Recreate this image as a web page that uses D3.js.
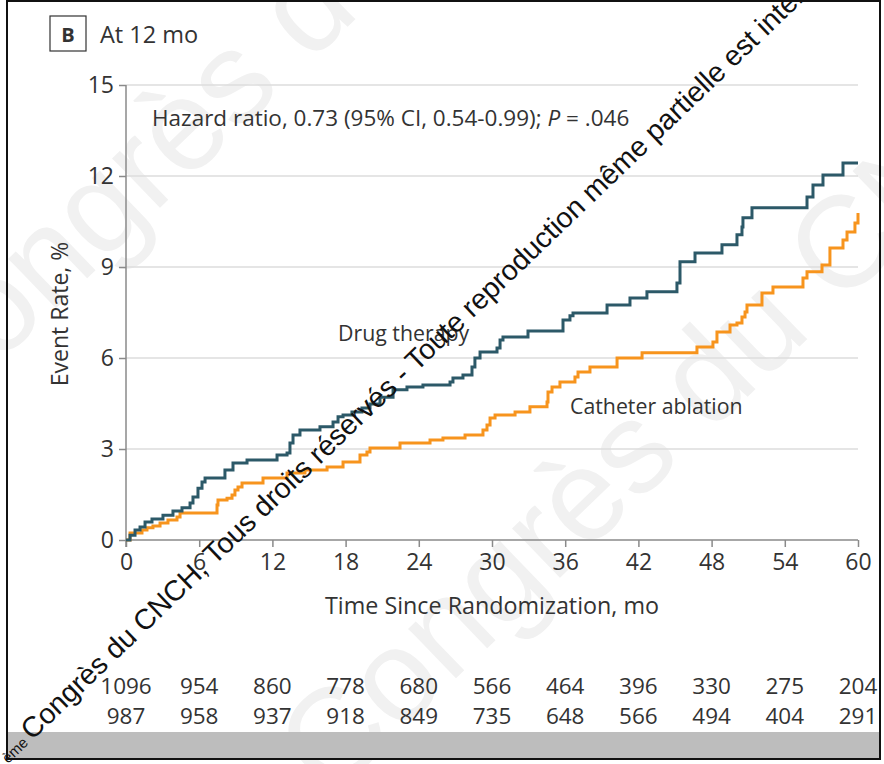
<!DOCTYPE html>
<html>
<head>
<meta charset="utf-8">
<script src="https://cdn.jsdelivr.net/npm/d3@7"></script>
<style>
  body { margin: 0; background: #fff; }
  text { font-family: "Open Sans", "Noto Sans", sans-serif; fill: #333; }
</style>
</head>
<body>
<div id="km-chart"></div>
<script>
// Data (months, cumulative event rate %)
const drugTime = [0, 0.33, 0.74, 1.15, 1.56, 2.13, 3.03, 3.85, 4.59, 5.25, 5.49, 5.9, 6.23, 6.48, 8.11, 8.77, 9.92, 12.38, 13.2, 13.44, 13.69, 14.26, 15.9, 16.97, 17.38, 17.79, 18.52, 19.34, 20.0, 20.82, 21.89, 23.03, 24.34, 26.56, 26.8, 27.62, 28.36, 28.6, 29.02, 30.41, 30.66, 30.9, 32.95, 35.82, 36.39, 36.64, 39.43, 41.31, 42.7, 45.16, 45.41, 46.64, 48.85, 50.08, 50.49, 50.57, 51.31, 55.82, 56.31, 57.13, 58.77, 60];
const drugRate = [0, 0.16, 0.33, 0.43, 0.59, 0.69, 0.82, 0.96, 1.06, 1.22, 1.42, 1.71, 1.91, 2.04, 2.31, 2.54, 2.64, 2.8, 2.87, 3.2, 3.46, 3.63, 3.73, 3.89, 4.06, 4.12, 4.22, 4.35, 4.48, 4.71, 4.95, 5.04, 5.11, 5.21, 5.34, 5.44, 5.7, 6.0, 6.2, 6.33, 6.59, 6.69, 6.89, 7.25, 7.39, 7.48, 7.75, 7.98, 8.18, 8.47, 9.17, 9.46, 9.73, 10.06, 10.32, 10.62, 10.95, 11.31, 11.7, 12.03, 12.43, 12.43];

const ablTime = [0, 0.33, 1.31, 1.72, 2.21, 2.79, 3.44, 4.18, 4.43, 7.46, 7.54, 8.28, 8.69, 8.93, 9.18, 9.51, 11.23, 13.2, 14.67, 16.48, 17.79, 19.18, 19.75, 20.0, 22.46, 24.92, 25.98, 27.79, 29.26, 29.59, 29.84, 30.25, 31.89, 33.11, 34.51, 34.59, 34.92, 35.57, 36.8, 37.05, 38.03, 40.25, 42.3, 46.8, 48.11, 48.44, 49.51, 50.08, 50.49, 50.74, 50.9, 52.13, 53.03, 55.49, 55.82, 57.05, 57.7, 58.77, 59.1, 59.75, 60];
const ablRate = [0, 0.23, 0.33, 0.4, 0.46, 0.56, 0.66, 0.76, 0.89, 1.15, 1.32, 1.38, 1.48, 1.65, 1.75, 1.88, 2.04, 2.21, 2.31, 2.41, 2.57, 2.8, 2.9, 3.03, 3.2, 3.3, 3.36, 3.46, 3.63, 3.79, 4.02, 4.12, 4.22, 4.39, 4.55, 4.88, 5.04, 5.21, 5.37, 5.54, 5.7, 6.0, 6.17, 6.36, 6.53, 6.86, 7.09, 7.15, 7.35, 7.52, 7.75, 8.14, 8.34, 8.64, 8.84, 9.07, 9.63, 9.89, 10.15, 10.45, 10.78];

const xTicks = [0, 6, 12, 18, 24, 30, 36, 42, 48, 54, 60];
const yTicks = [0, 3, 6, 9, 12, 15];
const riskDrug = [1096, 954, 860, 778, 680, 566, 464, 396, 330, 275, 204];
const riskAbl = [987, 958, 937, 918, 849, 735, 648, 566, 494, 404, 291];

const W = 884, H = 764;
const margin = {top: 85, right: 26, left: 126};

const svg = d3.select("#km-chart").append("svg")
  .attr("width", W)
  .attr("height", H);

// faint background watermark
const faint = svg.append("g");
[[-70, 430], [330, 800]].forEach(p => {
  faint.append("text")
    .attr("transform", "translate(" + p[0] + "," + p[1] + ") rotate(-44)")
    .style("font-family", "Liberation Sans, Arial, sans-serif")
    .style("font-size", "130px")
    .style("fill", "#f1f1f1")
    .text("Congrès du CNCH, Tous droits réservés");
});

const x = d3.scaleLinear().domain([0, 60]).range([margin.left, W - margin.right]);
const y = d3.scaleLinear().domain([0, 15]).range([540, margin.top]);

// gridlines
svg.append("g")
  .selectAll("line")
  .data(yTicks.filter(d => d > 0))
  .enter().append("line")
  .attr("x1", x(0))
  .attr("x2", x(60))
  .attr("y1", d => y(d))
  .attr("y2", d => y(d))
  .attr("stroke", "#dcdcdc")
  .attr("stroke-width", 1.5);

// axes
const xAxis = d3.axisBottom(x).tickValues(xTicks).tickSize(7).tickPadding(7);
const yAxis = d3.axisLeft(y).tickValues(yTicks).tickSize(7).tickPadding(5);

const gx = svg.append("g")
  .attr("transform", "translate(0," + y(0) + ")")
  .call(xAxis);
const gy = svg.append("g")
  .attr("transform", "translate(" + x(0) + ",0)")
  .call(yAxis);

[gx, gy].forEach(g => {
  g.select(".domain").attr("stroke", "#8a8a8a").attr("stroke-width", 1.5);
  g.selectAll(".tick line").attr("stroke", "#8a8a8a").attr("stroke-width", 1.5);
  g.selectAll(".tick text")
    .style("font-family", "Open Sans, sans-serif")
    .style("font-size", "23px")
    .style("fill", "#333");
});
gy.select(".domain").attr("d", "M0," + (y(0) + 7) + "V" + y(15));
gx.select(".domain").attr("d", "M" + x(0) + ",0H" + x(60));

// step lines
const line = d3.line()
  .x(d => x(d[0]))
  .y(d => y(d[1]))
  .curve(d3.curveStepAfter);

svg.append("path")
  .datum(ablTime.map((t, i) => [t, ablRate[i]]))
  .attr("fill", "none")
  .attr("stroke", "#f7941d")
  .attr("stroke-width", 3)
  .attr("d", line);

svg.append("path")
  .datum(drugTime.map((t, i) => [t, drugRate[i]]))
  .attr("fill", "none")
  .attr("stroke", "#2c5968")
  .attr("stroke-width", 3)
  .attr("d", line);

// labels
svg.append("text")
  .attr("x", 152)
  .attr("y", 126)
  .style("font-size", "22.5px")
  .html("Hazard ratio, 0.73 (95% CI, 0.54-0.99); <tspan font-style='italic'>P</tspan> = .046");

svg.append("text")
  .attr("x", 338)
  .attr("y", 341)
  .style("font-size", "21.3px")
  .text("Drug therapy");

svg.append("text")
  .attr("x", 570)
  .attr("y", 414)
  .style("font-size", "21.3px")
  .text("Catheter ablation");

svg.append("text")
  .attr("transform", "translate(68,314) rotate(-90)")
  .attr("text-anchor", "middle")
  .style("font-size", "23px")
  .text("Event Rate, %");

svg.append("text")
  .attr("x", 492)
  .attr("y", 614)
  .attr("text-anchor", "middle")
  .style("font-size", "23.3px")
  .text("Time Since Randomization, mo");

// panel label
svg.append("rect")
  .attr("x", 50).attr("y", 16)
  .attr("width", 36).attr("height", 35)
  .attr("fill", "#fff")
  .attr("stroke", "#333")
  .attr("stroke-width", 1.2);
svg.append("text")
  .attr("x", 68).attr("y", 42)
  .attr("text-anchor", "middle")
  .style("font-size", "20px")
  .style("font-weight", "bold")
  .text("B");
svg.append("text")
  .attr("x", 100).attr("y", 43)
  .style("font-size", "23.5px")
  .text("At 12 mo");

// numbers at risk
svg.append("g").selectAll("text")
  .data(riskDrug)
  .enter().append("text")
  .attr("x", (d, i) => x(xTicks[i]))
  .attr("y", 694)
  .attr("text-anchor", "middle")
  .style("font-size", "22.5px")
  .text(d => d);

svg.append("g").selectAll("text")
  .data(riskAbl)
  .enter().append("text")
  .attr("x", (d, i) => x(xTicks[i]))
  .attr("y", 724)
  .attr("text-anchor", "middle")
  .style("font-size", "22.5px")
  .text(d => d);

// gray band and frame
svg.append("rect")
  .attr("x", 8).attr("y", 732)
  .attr("width", 872).attr("height", 27)
  .attr("fill", "#bdbdbd");
svg.append("rect")
  .attr("x", 7).attr("y", 1)
  .attr("width", 873).attr("height", 758)
  .attr("fill", "none")
  .attr("stroke", "#111")
  .attr("stroke-width", 2);

// black watermark on top
const wm = svg.append("text")
  .attr("transform", "translate(8,764) rotate(-43.8)")
  .style("font-family", "Liberation Sans, Arial, sans-serif")
  .style("font-size", "28.5px")
  .style("fill", "#111");
wm.append("tspan")
  .style("font-size", "15px")
  .text("ème ");
wm.append("tspan")
  .text("Congrès du CNCH, Tous droits réservés - Toute reproduction même partielle est interdite");
</script>
</body>
</html>
